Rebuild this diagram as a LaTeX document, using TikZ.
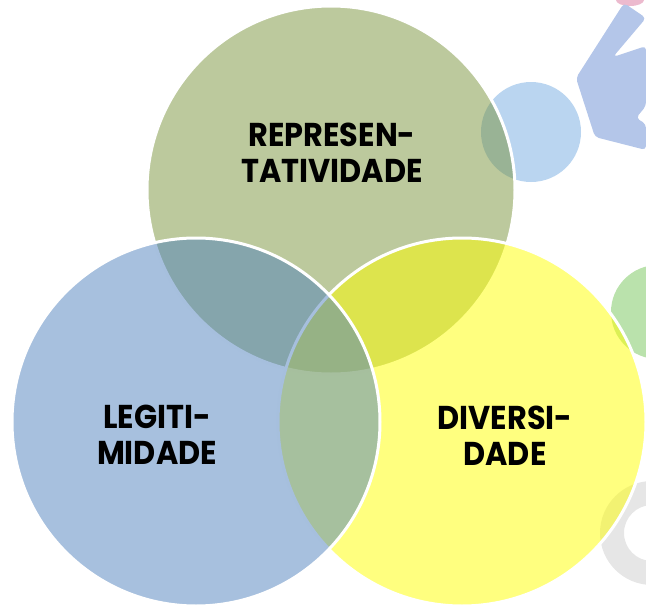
\documentclass[tikz,border=0pt]{standalone}
\usepackage{fontspec}
\usepackage{tikz}
\newfontfamily\vennfont[FakeStretch=0.92]{Poppins}
\definecolor{repgreen}{RGB}{121,147,59}
\definecolor{legblue}{RGB}{79,129,189}
\definecolor{divyellow}{RGB}{255,255,0}
\definecolor{blobblue}{RGB}{186,213,240}
\definecolor{blobbody}{RGB}{180,198,233}
\definecolor{blobpink}{RGB}{236,186,206}
\definecolor{blobgreen}{RGB}{186,226,172}
\definecolor{blobgray}{RGB}{230,230,230}
\begin{document}
\begin{tikzpicture}[x=1pt,y=-1pt,
  set/.style={circle,draw=white,line width=3pt,fill opacity=0.5,draw opacity=1,minimum size=368pt,inner sep=0pt},
  every node/.style={align=center,text=black,font=\vennfont\bfseries\fontsize{33}{36}\selectfont}]
  \useasboundingbox (0,0) rectangle (646,608);

  % faded picture behind the sets
  \fill[blobpink] (630,0) ellipse [x radius=14pt,y radius=6pt];
  \fill[blobbody,rounded corners=4pt] (576,78) -- (624,3) -- (646,18) -- (613,57)
    -- (646,46) -- (646,106) -- (636,118) -- (646,124) -- (646,150) -- (595,137) -- cycle;
  \fill[blobblue] (531,132) circle [radius=50pt];
  \fill[blobgreen] (658,312) circle [radius=47pt];
  \fill[blobgray,even odd rule] (652,533) circle [radius=52pt] circle [radius=28pt];

  % the three sets
  \node[set,fill=repgreen] (rep) at (331,190) {};
  \node[set,fill=divyellow] (div) at (462,422) {};
  \node[set,fill=legblue] (leg) at (196,422) {};

  \node (reptext) at (332,153) {REPRESEN-\\TATIVIDADE};
  \node (legtext) at (157,435) {LEGITI-\\MIDADE};
  \node (divtext) at (505,436) {DIVERSI-\\DADE};
\end{tikzpicture}
\end{document}
